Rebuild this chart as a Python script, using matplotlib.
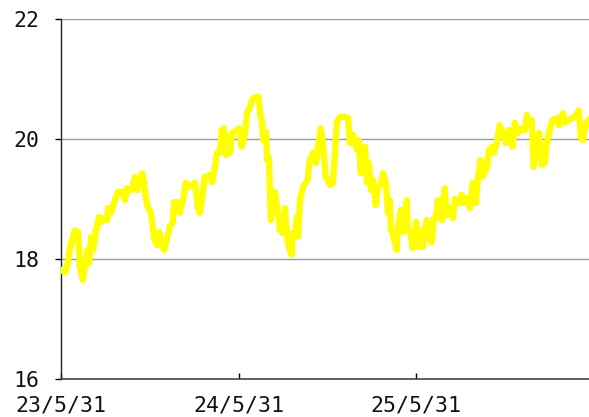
import matplotlib
matplotlib.use("Agg")
import matplotlib.pyplot as plt
import numpy as np
import datetime as dt

base_date = dt.date(2023, 5, 31)
day_offsets = [0, 8, 14, 19, 23, 29, 35, 39, 45, 49, 54, 58, 62, 66, 72, 78, 84, 86, 95, 97,
               103, 111, 117, 126, 132, 136, 146, 152, 158, 167, 171, 175, 179, 185, 189, 191,
               198, 202, 208, 212, 218, 224, 230, 233, 239, 245, 251, 257, 265, 276, 282, 286,
               292, 296, 307, 311, 317, 321, 327, 331, 335, 340, 344, 348, 352, 362, 366, 372,
               379, 383, 389, 395, 403, 407, 410, 414, 416, 422, 424, 428, 432, 436, 440, 444,
               451, 457, 461, 465, 469, 475, 477, 482, 486, 488, 492, 498, 508, 512, 519, 525,
               529, 535, 539, 545, 554, 560, 564, 568, 574, 584, 591, 595, 601, 609, 613, 617,
               621, 626, 630, 634, 638, 642, 648, 652, 659, 663, 669, 673, 677, 679, 683, 691,
               693, 700, 704, 712, 714, 720, 724, 731, 735, 741, 745, 753, 757, 763, 768, 772,
               776, 780, 784, 790, 794, 798, 807, 811, 817, 825, 829, 835, 842, 848, 854, 858,
               864, 868, 877, 881, 887, 891, 897, 903, 910, 916, 922, 930, 934, 940, 949, 955,
               959, 963, 969, 973, 980, 984, 990, 996, 1000, 1006, 1012, 1021, 1025, 1033, 1037,
               1045, 1054, 1060, 1066, 1070, 1074, 1082, 1087]
values = [17.82, 17.77, 17.93, 18.20, 18.32, 18.48, 18.45, 17.87, 17.65, 17.87, 18.15, 17.93,
          18.37, 18.15, 18.48, 18.70, 18.62, 18.68, 18.65, 18.85, 18.77, 18.98, 19.12, 19.12,
          18.98, 19.18, 19.15, 19.37, 19.15, 19.43, 19.28, 19.00, 18.87, 18.77, 18.55, 18.35,
          18.23, 18.45, 18.23, 18.15, 18.32, 18.55, 18.60, 18.95, 18.95, 18.77, 18.98, 19.27,
          19.20, 19.27, 18.85, 18.77, 19.10, 19.37, 19.40, 19.28, 19.53, 19.77, 19.77, 20.15,
          20.18, 19.73, 20.03, 19.77, 20.10, 20.15, 20.18, 19.87, 20.10, 20.43, 20.53, 20.68,
          20.70, 20.70, 20.43, 20.28, 19.98, 20.12, 19.65, 19.70, 18.65, 18.98, 19.12, 18.93,
          18.48, 18.43, 18.85, 18.43, 18.20, 18.07, 18.43, 18.43, 18.70, 18.37, 18.98, 19.20,
          19.32, 19.65, 19.77, 19.60, 19.87, 20.18, 19.93, 19.37, 19.23, 19.27, 19.77, 20.28,
          20.37, 20.37, 20.35, 19.93, 20.07, 19.82, 19.98, 19.43, 19.57, 19.87, 19.28, 19.60,
          19.15, 19.32, 18.90, 19.18, 19.27, 19.43, 19.27, 18.77, 18.98, 18.48, 18.43, 18.15,
          18.48, 18.82, 18.45, 18.98, 18.48, 18.43, 18.18, 18.62, 18.20, 18.48, 18.20, 18.65,
          18.48, 18.28, 18.68, 18.70, 18.98, 18.87, 18.65, 19.18, 18.73, 18.87, 18.68, 19.00,
          18.93, 19.07, 18.93, 19.00, 18.85, 19.27, 18.93, 19.32, 19.65, 19.37, 19.53, 19.82,
          19.87, 19.77, 19.93, 20.23, 20.10, 19.93, 20.15, 19.87, 20.27, 20.10, 20.18, 20.15,
          20.40, 20.27, 20.32, 19.53, 19.98, 20.10, 19.57, 19.60, 19.93, 20.15, 20.32, 20.35,
          20.23, 20.43, 20.27, 20.32, 20.35, 20.40, 20.48, 20.03, 19.98, 20.27, 20.33]
tick_dates = ["2023-05-31", "2024-05-31", "2025-05-31"]
tick_labels = ["23/5/31", "24/5/31", "25/5/31"]
y_ticks = [16, 18, 20, 22]

dates = [np.datetime64(base_date) + np.timedelta64(d, "D") for d in day_offsets]

plt.rcParams['font.family'] = ['DejaVu Sans Mono', 'DejaVu Sans']
fig = plt.figure(figsize=(5.89, 4.17), dpi=100)
ax = fig.add_axes([61/589, 38/417, 1 - 61/589, (379-19)/417])

ax.plot(dates, values, color="#FFFF00", linewidth=4.5, solid_joinstyle="round",
        solid_capstyle="round", zorder=3)

ax.set_ylim(16, 22)
ax.set_yticks(y_ticks)
ax.set_yticklabels([str(v) for v in y_ticks])
ax.set_xlim(np.datetime64(base_date), dates[-1])
ax.set_xticks([np.datetime64(d) for d in tick_dates])
ax.set_xticklabels(tick_labels)

for y in [18, 20, 22]:
    ax.axhline(y, color="#999999", linewidth=1.0, zorder=1)

for s in ["top", "right"]:
    ax.spines[s].set_visible(False)
ax.spines["left"].set_color("#222222")
ax.spines["bottom"].set_color("#444444")
ax.spines["left"].set_linewidth(1.0)
ax.spines["bottom"].set_linewidth(1.2)

ax.tick_params(axis="y", direction="out", length=4.5, width=1, labelsize=15.5, pad=11,
               labelcolor="#111111")
ax.tick_params(axis="x", direction="in", length=4.5, width=1, labelsize=15.5, pad=12,
               labelcolor="#111111")

fig.savefig("out.png", dpi=100, facecolor="white")
